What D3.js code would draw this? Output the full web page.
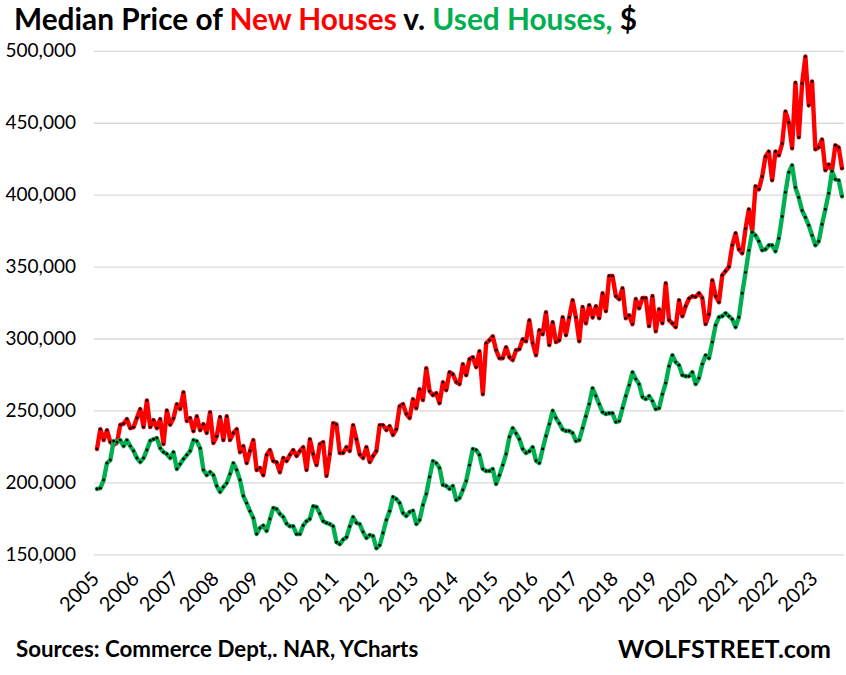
<!DOCTYPE html>
<html><head><meta charset="utf-8">
<script src="https://cdn.jsdelivr.net/npm/d3@7"></script>
<style>html,body{margin:0;padding:0;background:#fff}svg{display:block}text{font-family:Lato,"Open Sans",sans-serif}</style>
</head><body><svg id="c" width="846" height="675"></svg>
<script>
const startYear = 2005;
const yearLabels = d3.range(2005, 2024).map(String);
const yTicks = [150000,200000,250000,300000,350000,400000,450000,500000];
const newHouses = [223.2,237,229.4,236.3,228,226,227.5,240,240.7,244,237.7,238.4,244.7,251,238.4,257,238.4,243.3,237.7,244,226.6,250,240,244.5,254.4,251,262.7,242.6,244.7,235.6,246,236.3,240.5,234.3,248.8,227.3,232,245.4,229.4,246,229.4,234.3,237,221,225.2,213.4,221.8,229.4,208.6,210,205,219,222.5,214.8,214,207,217,214.8,219,222.5,218.3,221.8,224.5,208.6,230,219.7,212,226.6,228,204.4,219.7,241.2,240.3,220.4,220.4,224.5,221.8,239.8,230,219.4,216.9,224.5,214.1,218.3,221.8,239.8,239.8,236.3,239.1,232.9,237,253,254.4,247.5,244.7,257.9,251.6,264.8,257.2,279.4,263.4,260.6,262,255,269.7,264.1,276.6,275.2,269.7,268.3,282.2,274.5,285.6,287,280.1,291.2,261.3,296.8,298.8,301.6,291.9,286.3,286.3,294,287,285,291.9,292.6,299.5,298.1,312.7,296.8,288.4,305.8,303,318.3,295.4,311.3,297.5,298.8,314.8,302.3,314.8,326.6,314.6,298.1,322,310.6,323.2,314.6,322.5,314.1,331.5,319,343.5,343.5,329.4,327.3,335,314.1,316.2,310,327.5,321,328.2,328.2,308.6,329.6,305,320.4,310.6,338.4,312.7,310.6,307.9,326.6,315.5,322.5,327.8,329.4,329,331.5,328.2,310,316.9,340.5,329.4,325.2,344,346.8,349.8,364.8,373.2,362,359.3,376.4,389.8,374.5,405.8,403.7,412.7,426.6,430,410,430,427.3,435.4,457.9,450.2,432.2,477.8,439.8,477.3,496,462,478.7,431.5,432.9,438.4,416.9,421,416.9,434.3,432.9,418.3].map(v=>v*1000);
const usedHouses = [195.4,196,201.6,213.4,215.5,228.7,228,229.4,225.2,229.4,225.2,221.8,216.9,214.1,216.9,222.5,229,230,230.8,223.8,221,219.7,216.9,221,209.3,212.7,216.2,219,221.8,229.4,228.7,223.8,208.6,205,207.2,205,197.5,193.3,196.8,199.5,205.8,213.4,208.6,201.6,190.5,185.6,180,175.2,164.1,168.3,170,166.2,174.5,182.2,181.5,178,176,171.3,169.5,169.5,164,164,170,173,174.5,183.4,182.9,178.3,173,171.8,171,169.5,158.4,157,160.2,161.8,169.4,175.9,171.8,171,165.5,161.3,163.4,162.7,154.2,156.3,164.8,173.8,180,189.8,188.4,185.7,178.7,176.6,179.4,180.3,171,173.8,184.3,191.9,203.7,214.8,213.4,210,198.2,197.5,195.4,197.5,187.7,189.1,194.7,201,212,223.2,222.5,219,209.3,207.9,207.9,209.3,198.9,205,212,219.7,231.5,237.7,234,230,223.2,220.4,221.6,224.5,215,213.4,223.2,232.2,240.5,249.8,244.7,241,236.8,235.7,235.7,234.3,228.7,229.4,237.7,246,254.4,265.5,260,254.4,248.8,247.5,248.1,248.1,241.9,242.6,251.6,260,267.6,276.6,271.8,268.3,259.3,257.9,260,256.5,250.9,251.6,261.3,269,280.8,288.4,283.6,281.5,274.5,273.8,273.8,276.6,268.3,272.5,282.2,288.4,286.3,297.5,309.3,314.8,315.5,317.6,315.5,313.4,307.9,314.8,331.5,346,361.3,373.8,371.7,367.6,361.3,362,364.8,364.8,360.6,369.6,384.8,401.6,415.5,420.4,405,398,389,384.2,378.7,371.7,364.8,367.6,379.4,389.8,400.9,416.2,410.6,410,398.8].map(v=>v*1000);

const svg = d3.select("#c");
const x = d3.scaleLinear().domain([0, newHouses.length-1]).range([97, 842]);
const y = d3.scaleLinear().domain([150000,500000]).range([554.3, 50.8]);

const gy = svg.append("g").attr("transform","translate(94,0)")
  .call(d3.axisLeft(y).tickValues(yTicks).tickFormat(d3.format(",")).tickSize(-750).tickPadding(18));
gy.select(".domain").remove();
gy.selectAll(".tick line").attr("stroke","#D9D9D9").attr("stroke-width",1.3);
gy.selectAll(".tick text").attr("fill","#000").style("font-size","19px");

const gx = svg.append("g").attr("transform","translate(0,557)")
  .call(d3.axisBottom(x).tickValues(yearLabels.map((d,i)=>i*12)).tickFormat(i=>String(startYear+i/12)).tickSize(0).tickPadding(0));
gx.select(".domain").remove();
gx.selectAll(".tick text").attr("fill","#000").style("font-size","20px")
  .attr("text-anchor","end").attr("dy",0).attr("transform","translate(3,23) rotate(-45)");

const line = d3.line().x((d,i)=>x(i)).y(d=>y(d));
function series(vals,color){
  svg.append("path").datum(vals).attr("d",line).attr("fill","none")
    .attr("stroke",color).attr("stroke-width",4.4).attr("stroke-linejoin","round").attr("stroke-linecap","round");
  svg.append("g").selectAll("circle").data(vals).join("circle")
    .attr("cx",(d,i)=>x(i)).attr("cy",d=>y(d)).attr("r",1.45).attr("fill","#000");
}
series(newHouses,"#FF0000");
series(usedHouses,"#00B050");

const t = svg.append("text").attr("x",14).attr("y",30).style("font-size","29.8px").style("font-weight",700).attr("fill","#000");
[["Median Price of ","#000"],["New Houses","#FF0000"],[" v. ","#000"],["Used Houses,","#00B050"],[" $","#000"]]
  .forEach(([s,c])=>t.append("tspan").attr("fill",c).attr("xml:space","preserve").text(s));
svg.append("text").attr("x",16).attr("y",657).style("font-size","22.3px").style("font-weight",700).attr("fill","#000").text("Sources: Commerce Dept,. NAR, YCharts");
svg.append("text").attr("x",831).attr("y",658).attr("text-anchor","end").style("font-size","25px").style("font-weight",700).attr("fill","#000").text("WOLFSTREET.com");
</script></body></html>
